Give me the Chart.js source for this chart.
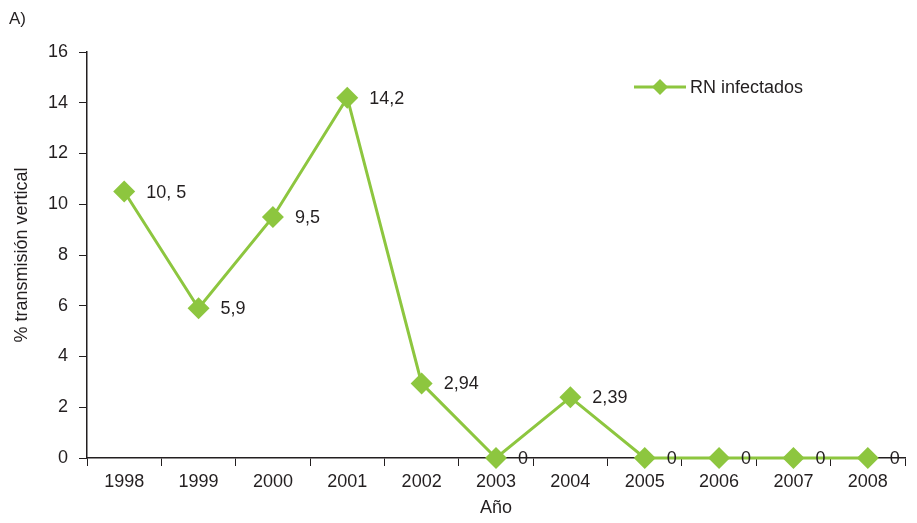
<!DOCTYPE html>
<html lang="es">
  <head>
    <meta charset="UTF-8" />
    <title>Transmisión vertical</title>
    <script src="https://cdn.jsdelivr.net/npm/chart.js@4.4.1/dist/chart.umd.min.js"></script>
    <style>
      body { margin: 0; background: #fff; }
      #wrap { width: 917px; height: 523px; }
    </style>
  </head>
  <body>
    <div id="wrap"><canvas id="myChart" width="917" height="523"></canvas></div>
    <script>
      const years = ['1998', '1999', '2000', '2001', '2002', '2003', '2004', '2005', '2006', '2007', '2008'];
      const rnInfectados = [10.5, 5.9, 9.5, 14.2, 2.94, 0, 2.39, 0, 0, 0, 0];
      const pointLabels = ['10, 5', '5,9', '9,5', '14,2', '2,94', '0', '2,39', '0', '0', '0', '0'];

      const green = '#8dc63f';
      const ink = '#231f20';
      const font = 'Liberation Sans, Arial, Helvetica, sans-serif';

      // value labels, legend and panel letter
      const extras = {
        id: 'extras',
        afterDatasetsDraw(chart) {
          const ctx = chart.ctx;
          const meta = chart.getDatasetMeta(0);
          ctx.save();
          ctx.fillStyle = ink;
          ctx.font = '18px ' + font;
          ctx.textBaseline = 'middle';
          ctx.textAlign = 'left';
          meta.data.forEach((pt, i) => {
            ctx.fillText(pointLabels[i], pt.x + 22, pt.y + 1);
          });

          // legend
          const ly = 87;
          ctx.strokeStyle = green;
          ctx.lineWidth = 3;
          ctx.beginPath();
          ctx.moveTo(634, ly);
          ctx.lineTo(686, ly);
          ctx.stroke();
          ctx.fillStyle = green;
          ctx.beginPath();
          ctx.moveTo(660, ly - 8);
          ctx.lineTo(668, ly);
          ctx.lineTo(660, ly + 8);
          ctx.lineTo(652, ly);
          ctx.closePath();
          ctx.fill();
          ctx.fillStyle = ink;
          ctx.fillText('RN infectados', 690, ly + 1);

          ctx.font = '17px ' + font;
          ctx.fillText('A)', 9, 19);
          ctx.restore();
        }
      };

      const ctx = document.getElementById('myChart').getContext('2d');
      new Chart(ctx, {
        type: 'line',
        data: {
          labels: years,
          datasets: [{
            label: 'RN infectados',
            data: rnInfectados,
            borderColor: green,
            backgroundColor: green,
            borderWidth: 3,
            pointStyle: 'rectRot',
            pointRadius: 11,
            pointHoverRadius: 11,
            pointBorderWidth: 0,
            fill: false,
            tension: 0,
            clip: false
          }]
        },
        options: {
          responsive: false,
          animation: false,
          layout: { padding: { left: 0, top: 52, right: 12, bottom: 0 } },
          plugins: {
            legend: { display: false },
            tooltip: { enabled: false }
          },
          scales: {
            x: {
              offset: true,
              afterFit(scale) { scale.height = 65; },
              grid: {
                offset: true,
                drawOnChartArea: false,
                drawTicks: true,
                tickLength: 8,
                color: ink,
                lineWidth: 1
              },
              border: { display: true, color: ink, width: 1.5 },
              ticks: { color: ink, font: { size: 18, family: font }, padding: 5 },
              title: {
                display: true,
                text: 'Año',
                color: ink,
                font: { size: 18, family: font },
                padding: { top: 0, bottom: 4 }
              }
            },
            y: {
              min: 0,
              max: 16,
              afterFit(scale) { scale.width = 87; },
              grid: {
                drawOnChartArea: false,
                drawTicks: true,
                tickLength: 8,
                color: ink,
                lineWidth: 1
              },
              border: { display: true, color: ink, width: 1.5 },
              ticks: { stepSize: 2, color: ink, font: { size: 18, family: font }, padding: 11 },
              title: {
                display: true,
                text: '% transmisión vertical',
                color: ink,
                font: { size: 18, family: font },
                padding: { top: 11, bottom: 0 }
              }
            }
          }
        },
        plugins: [extras]
      });
    </script>
  </body>
</html>
